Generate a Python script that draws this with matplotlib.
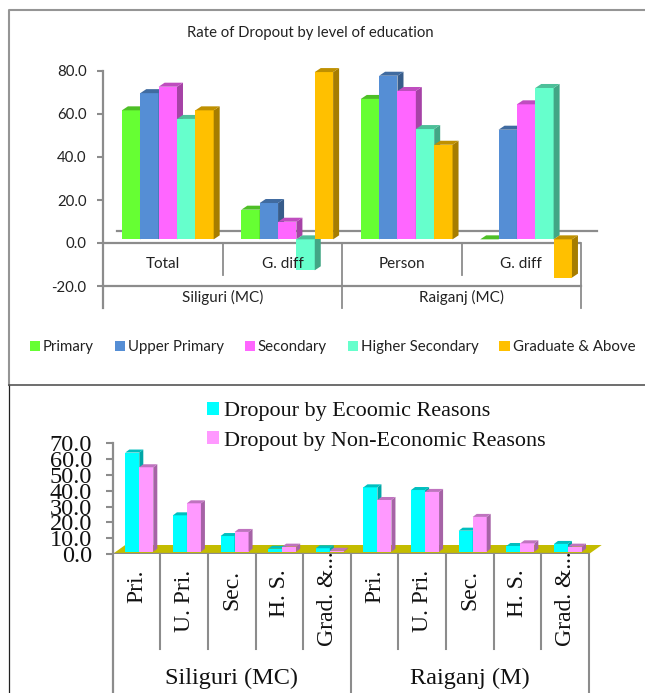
import matplotlib
matplotlib.use("Agg")
import matplotlib.pyplot as plt
from matplotlib.patches import Polygon

W, H = 645, 693

# top chart data
top_groups = ["Total", "G. diff", "Person", "G. diff"]
top_cities = ["Siliguri (MC)", "Raiganj (MC)"]
top_series = ["Primary", "Upper Primary", "Secondary", "Higher Secondary", "Graduate & Above"]
primary = [60.0, 13.8, 65.3, 0.0]
upper_primary = [68.0, 16.9, 76.1, 51.0]
secondary = [71.0, 8.2, 69.0, 62.8]
higher_secondary = [56.0, -14.4, 51.3, 70.4]
graduate = [60.0, 77.8, 44.0, -17.8]
top_ticks = [-20, 0, 20, 40, 60, 80]
top_colors = ["#66FF33", "#558ED5", "#FF66FF", "#66FFCC", "#FFC000"]

# bottom chart data
low_groups = ["Pri.", "U. Pri.", "Sec.", "H. S.", "Grad. &..."] * 2
low_cities = ["Siliguri (MC)", "Raiganj (M)"]
low_series = ["Dropour by Ecoomic Reasons", "Dropout by Non-Economic Reasons"]
economic = [62.7, 23.0, 9.9, 1.9, 2.2, 40.7, 39.0, 13.3, 3.6, 4.9]
non_economic = [53.4, 30.6, 12.5, 3.2, 0.6, 32.7, 37.8, 22.0, 5.3, 3.2]
low_ticks = [0, 10, 20, 30, 40, 50, 60, 70]
low_colors = ["#00FFFF", "#FF99FF"]

GRAY = "#8C8C8C"


def shade(color, f):
    r, g, b = matplotlib.colors.to_rgb(color)
    return (r * f, g * f, b * f)


def axes_px(x0, y0, x1, y1):
    # y0 is the top edge, in image pixels
    return plt.gcf().add_axes([x0 / W, 1 - y1 / H, (x1 - x0) / W, (y1 - y0) / H])


def bar3d(ax, x, val, width, base, dx, dy, color, z):
    lo, hi = min(base, base + val), max(base, base + val)
    ax.bar(x, hi - lo, width, bottom=lo, align="edge", color=color, linewidth=0, zorder=z, clip_on=False)
    side = [(x + width, lo), (x + width + dx, lo + dy), (x + width + dx, hi + dy), (x + width, hi)]
    top = [(x, hi), (x + dx, hi + dy), (x + width + dx, hi + dy), (x + width, hi)]
    ax.add_patch(Polygon(side, color=shade(color, 0.65), linewidth=0, zorder=z, clip_on=False))
    ax.add_patch(Polygon(top, color=shade(color, 0.75), linewidth=0, zorder=z, clip_on=False))


fig = plt.figure(figsize=(W / 100, H / 100), dpi=100)

# panel frames
bg = fig.add_axes([0, 0, 1, 1])
bg.set_xlim(0, W)
bg.set_ylim(H, 0)
bg.axis("off")
bg.plot([645, 8.5, 8.5], [9.5, 9.5, 385], color="#959595", lw=1.5)
bg.plot([8.5, 8.5], [385, 693], color="#222222", lw=0.9)
bg.plot([8.5, 645], [385, 385], color="#555555", lw=1.2)

# ---- top chart ----
ax = axes_px(103.3, 71, 581, 286)
ax.set_xlim(0, 4)
ax.set_ylim(-20, 80)
ax.patch.set_alpha(0)
for s in ax.spines.values():
    s.set_visible(False)
px_x = 4 / 477.7
px_y = 100 / 215
ax.set_xticks([])
ax.set_yticks(top_ticks)
ax.set_yticklabels([f"{t:.1f}" for t in top_ticks], family="Lato", fontsize=10.8, color="#222222")
ax.tick_params(axis="y", length=4, width=1.5, color=GRAY, pad=8)

ax.plot([0, 0], [-30, 80], color=GRAY, lw=1.6, clip_on=False, zorder=1)
ax.plot([0, 4], [0, 0], color=GRAY, lw=1.6, zorder=1)
ax.plot([0, 4], [-20, -20], color=GRAY, lw=1.6, clip_on=False, zorder=1)
ax.plot([14 * px_x, 494 * px_x], [5.6, 5.6], color=GRAY, lw=1.6, clip_on=False, zorder=1)
for c in [1, 3]:
    ax.plot([c, c], [0, -15], color=GRAY, lw=1.3, zorder=1)
for c in [2, 4]:
    ax.plot([c, c], [0, -30], color=GRAY, lw=1.3, clip_on=False, zorder=1)

top_values = [primary, upper_primary, secondary, higher_secondary, graduate]
w = 18.35 * px_x
base = 1.7
for g in range(4):
    x0 = g + 0.5 - 2.5 * w + 4.8 * px_x
    for i, vals in enumerate(top_values):
        bar3d(ax, x0 + i * w, vals[g], w, base, 6 * px_x, 4 * px_y, top_colors[i], 3 + g + i * 0.1)
    ax.text(g + 0.5, -9.8, top_groups[g], ha="center", va="center", family="Lato", fontsize=11, color="#222222", zorder=20)
for k, city in enumerate(top_cities):
    ax.text(k * 2 + 1, -25.2, city, ha="center", va="center", family="Lato", fontsize=11, color="#222222", zorder=20)

handles = [plt.Rectangle((0, 0), 1, 1, color=c, linewidth=0, label=n) for c, n in zip(top_colors, top_series)]
fig.legend(handles=handles, ncols=5, loc="center left", bbox_to_anchor=(30 / W, 1 - 347 / H), frameon=False,
           prop={"family": "Lato", "size": 10.8}, labelcolor="#222222", handlelength=0.67, handleheight=0.67,
           handletextpad=0.2, columnspacing=1.39, borderpad=0, borderaxespad=0)

bg.text(310, 32.5, "Rate of Dropout by level of education", ha="center", va="center", family="Lato", fontsize=10.7, color="#222222")

# ---- bottom chart ----
ax2 = axes_px(112.7, 443.3, 589, 554)
ax2.set_xlim(0, 10)
ax2.set_ylim(0, 70)
ax2.patch.set_alpha(0)
for s in ax2.spines.values():
    s.set_visible(False)
qx = 10 / 476.3
qy = 70 / 110.7
ax2.set_xticks([])
ax2.set_yticks(low_ticks)
ax2.set_yticklabels([f"{t:.1f}" for t in low_ticks], family="Liberation Serif", fontsize=17.5, color="#111111")
ax2.tick_params(axis="y", length=5, width=1.5, color=GRAY, pad=10)

floor = [(0, 0), (12.5 * qx, 9 * qy), (489 * qx, 9 * qy), (476.3 * qx, 0)]
ax2.add_patch(Polygon(floor, color="#C4BC00", linewidth=0, zorder=1, clip_on=False))
ax2.plot([0, 10], [0, 0], color=GRAY, lw=1.6, zorder=2)
ax2.plot([0, 0], [70, -88], color=GRAY, lw=1.6, clip_on=False, zorder=2)
for c in range(1, 11):
    end = -60 if c not in (5, 10) else -88
    ax2.plot([c, c], [0, end], color=GRAY, lw=1.5, clip_on=False, zorder=2)

w2 = 14 * qx
base2 = 2.3 * qy
for g in range(10):
    x0 = g + 12.6 * qx
    bar3d(ax2, x0, economic[g], w2, base2, 4 * qx, 3 * qy, low_colors[0], 3 + g)
    bar3d(ax2, x0 + w2, non_economic[g], w2, base2, 4 * qx, 3 * qy, low_colors[1], 3 + g + 0.1)
    if low_groups[g].startswith("Grad"):
        ax2.text(g + 0.5, -58, low_groups[g], rotation=90, ha="center", va="bottom", family="Liberation Serif",
                 fontsize=17, color="#111111", zorder=20)
    else:
        ax2.text(g + 0.5, -10, low_groups[g], rotation=90, ha="center", va="top", family="Liberation Serif",
                 fontsize=17, color="#111111", zorder=20)
for k, city in enumerate(low_cities):
    ax2.text(k * 5 + 2.5, -78.5, city, ha="center", va="center", family="Liberation Serif", fontsize=17.5, color="#111111", zorder=20)

handles2 = [plt.Rectangle((0, 0), 1, 1, color=c, linewidth=0, label=n) for c, n in zip(low_colors, low_series)]
fig.legend(handles=handles2, ncols=1, loc="upper left", bbox_to_anchor=(207 / W, 1 - 402 / H), frameon=False,
           prop={"family": "Liberation Serif", "size": 15.9}, labelcolor="#111111", handlelength=0.55, handleheight=0.55,
           handletextpad=0.2, labelspacing=0.44, borderpad=0, borderaxespad=0)

fig.savefig("out.png", dpi=100)
